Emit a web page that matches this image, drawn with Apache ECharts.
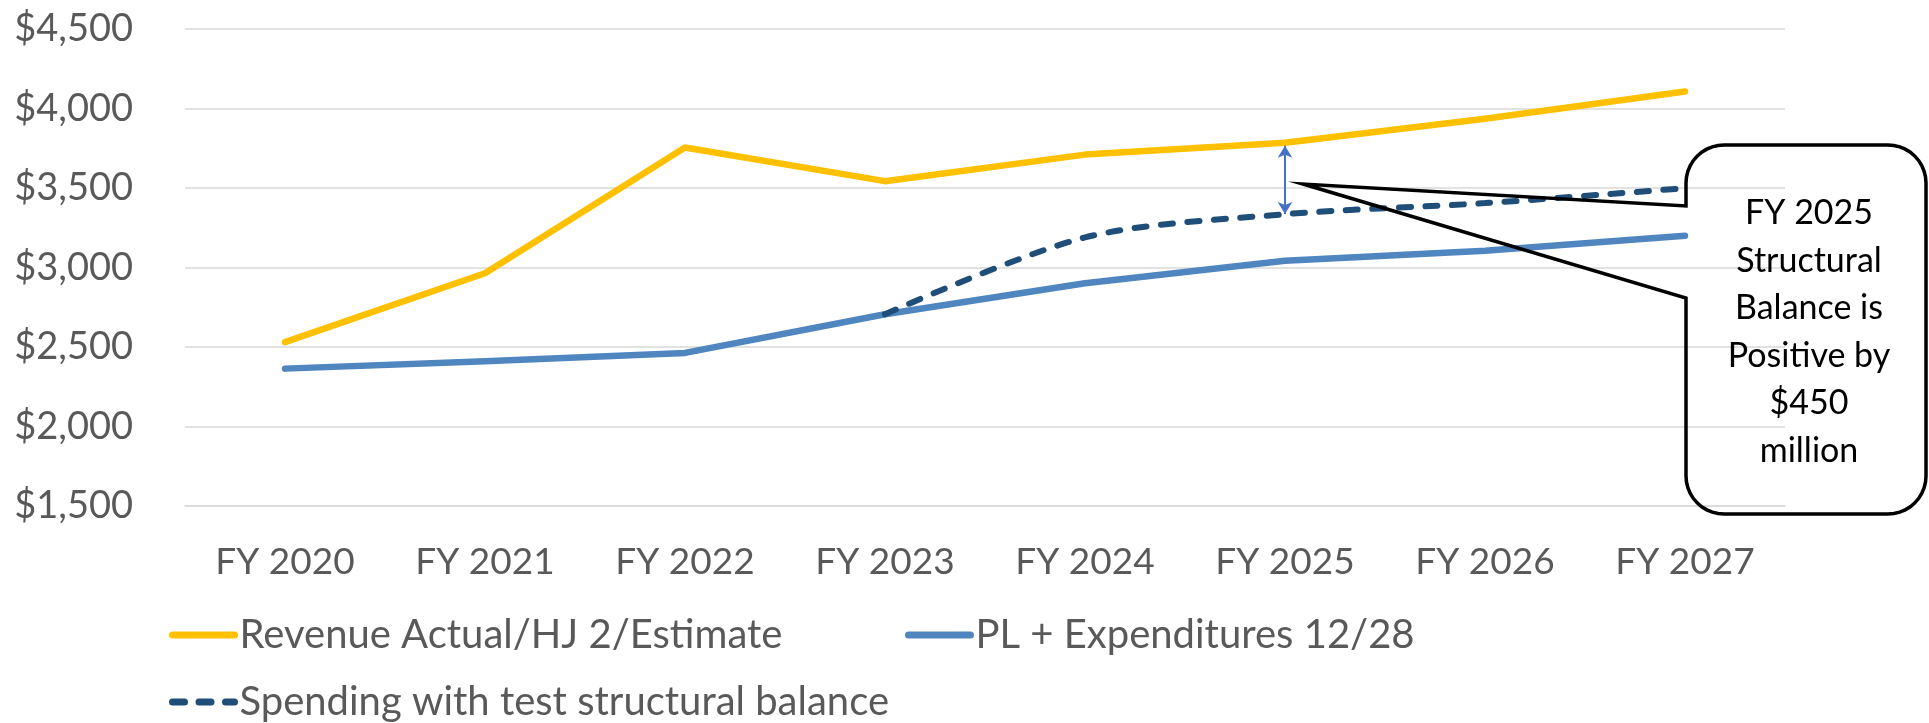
<!DOCTYPE html>
<html>
<head>
<meta charset="utf-8">
<script src="https://cdn.jsdelivr.net/npm/echarts@6/dist/echarts.min.js"></script>
<style>
  html, body { margin: 0; padding: 0; background: #fff; }
  #main { width: 1929px; height: 723px; }
</style>
</head>
<body>
<div id="main"></div>
<script>
  var categories = ['FY 2020', 'FY 2021', 'FY 2022', 'FY 2023', 'FY 2024', 'FY 2025', 'FY 2026', 'FY 2027'];
  var revenue = [2531, 2964, 3755, 3543, 3710, 3784, 3935, 4107];
  var expenditures = [2364, 2410, 2463, 2706, 2901, 3043, 3105, 3200];
  var spending = [null, null, null, 2706, 3189, 3335, 3405, 3499];
  // vertical gap arrow at FY 2025 (top, bottom)
  var gapArrow = [3765, 3337];
  var calloutLines = ['FY 2025', 'Structural', 'Balance is', 'Positive by', '$450', 'million'];

  var font = 'Lato';
  var grey = '#595959';

  // outline of the speech bubble: rounded box with a pointer on its left side
  function bubblePoints(x0, y0, x1, y1, r, pTop, pBottom, tip) {
    var pts = [];
    function arc(cx, cy, a0, a1) {
      for (var i = 0; i <= 10; i++) {
        var a = a0 + (a1 - a0) * i / 10;
        pts.push([cx + r * Math.cos(a), cy + r * Math.sin(a)]);
      }
    }
    pts.push([x0, pTop]);
    arc(x0 + r, y0 + r, Math.PI, Math.PI * 1.5);
    arc(x1 - r, y0 + r, Math.PI * 1.5, Math.PI * 2);
    arc(x1 - r, y1 - r, 0, Math.PI * 0.5);
    arc(x0 + r, y1 - r, Math.PI * 0.5, Math.PI);
    pts.push([x0, pBottom]);
    pts.push(tip);
    return pts;
  }

  function legendAt(name, left, top) {
    return {
      data: [name],
      left: left, top: top, padding: 0,
      itemWidth: 62, itemHeight: 14,
      itemStyle: { opacity: 0 },
      lineStyle: { width: 7, cap: 'round' },
      textStyle: { color: grey, fontFamily: font, fontSize: 40, lineHeight: 42 }
    };
  }

  var myChart = echarts.init(document.getElementById('main'));

  var option = {
    backgroundColor: '#ffffff',
    animation: false,
    grid: { left: 185, right: 144, top: 29, bottom: 217 },
    xAxis: {
      type: 'category',
      data: categories,
      boundaryGap: true,
      axisLine: { lineStyle: { color: '#d9d9d9', width: 1.5 } },
      axisTick: { show: false },
      axisLabel: { color: grey, fontFamily: font, fontSize: 37, lineHeight: 37, margin: 38 }
    },
    yAxis: {
      type: 'value',
      min: 1500,
      max: 4500,
      interval: 500,
      axisLine: { show: false },
      axisTick: { show: false },
      splitLine: { lineStyle: { color: '#d9d9d9', width: 1.5 } },
      axisLabel: {
        color: grey, fontFamily: font, fontSize: 38, margin: 52,
        formatter: function (v) { return '$' + v.toLocaleString('en-US'); }
      }
    },
    legend: [
      legendAt('Revenue Actual/HJ 2/Estimate', 169, 614),
      legendAt('PL + Expenditures 12/28', 905, 614),
      legendAt('Spending with test structural balance', 169, 681)
    ],
    series: [
      {
        name: 'Revenue Actual/HJ 2/Estimate',
        type: 'line',
        data: revenue,
        symbol: 'none',
        lineStyle: { color: '#ffc000', width: 6.5, cap: 'round', join: 'round' },
        itemStyle: { color: '#ffc000' },
        markLine: {
          silent: true,
          symbol: ['arrow', 'arrow'],
          symbolSize: [11, 12],
          label: { show: false },
          lineStyle: { color: '#4472c4', width: 2, type: 'solid' },
          data: [[
            { coord: [categories[5], gapArrow[0]] },
            { coord: [categories[5], gapArrow[1]] }
          ]]
        }
      },
      {
        name: 'PL + Expenditures 12/28',
        type: 'line',
        data: expenditures,
        symbol: 'none',
        lineStyle: { color: '#4f86bf', width: 6.5, cap: 'round', join: 'round' },
        itemStyle: { color: '#4f86bf' }
      },
      {
        name: 'Spending with test structural balance',
        type: 'line',
        data: spending,
        symbol: 'none',
        smooth: 0.3,
        lineStyle: { color: '#1f4e79', width: 6, type: [12, 14.5], cap: 'round' },
        itemStyle: { color: '#1f4e79' }
      }
    ],
    graphic: [
      {
        type: 'polygon',
        z: 100,
        shape: { points: bubblePoints(1686, 145, 1926, 514, 38, 206, 298, [1303, 184]) },
        style: { fill: 'none', stroke: '#000', lineWidth: 3.5, lineJoin: 'miter' }
      },
      {
        type: 'text',
        z: 101,
        x: 1809,
        y: 332,
        style: {
          text: calloutLines.join('\n'),
          fill: '#000',
          font: '34px Lato',
          lineHeight: 47.5,
          align: 'center',
          verticalAlign: 'middle'
        }
      }
    ]
  };

  myChart.setOption(option);
</script>
</body>
</html>
